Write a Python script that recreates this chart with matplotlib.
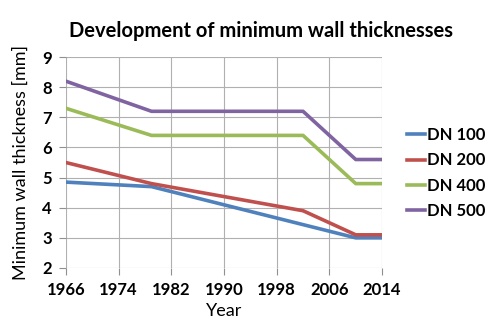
import matplotlib
matplotlib.use("Agg")
import matplotlib.pyplot as plt

plt.rcParams['font.family'] = ['Lato', 'DejaVu Sans']

years_100 = [1966, 1979, 2010, 2014]
dn_100 = [4.85, 4.7, 3.0, 3.0]
years = [1966, 1979, 2002, 2010, 2014]
dn_200 = [5.5, 4.8, 3.9, 3.1, 3.1]
dn_400 = [7.3, 6.4, 6.4, 4.8, 4.8]
dn_500 = [8.2, 7.2, 7.2, 5.6, 5.6]

x_ticks = [1966, 1974, 1982, 1990, 1998, 2006, 2014]
y_ticks = [2, 3, 4, 5, 6, 7, 8, 9]

fig = plt.figure(figsize=(4.88, 3.28), dpi=100)
ax = fig.add_axes([0.135, 0.183, 0.648, 0.643])

ax.plot(years_100, dn_100, color='#4F81BD', lw=2.6, label='DN 100')
ax.plot(years, dn_200, color='#C0504D', lw=2.6, label='DN 200')
ax.plot(years, dn_400, color='#9BBB59', lw=2.6, label='DN 400')
ax.plot(years, dn_500, color='#8064A2', lw=2.6, label='DN 500')

ax.set_xlim(1966, 2014)
ax.set_ylim(2, 9)
ax.set_xticks(x_ticks)
ax.set_yticks(y_ticks)
ax.grid(True, color='#b0b0b0', lw=0.8)
ax.set_axisbelow(True)
for s in ax.spines.values():
    s.set_visible(False)
ax.tick_params(length=5, color='#909090', labelsize=12, pad=5)
for lab in ax.get_xticklabels() + ax.get_yticklabels():
    lab.set_fontweight('bold')

ax.set_xlabel('Year', fontsize=13, labelpad=4)
ax.set_ylabel('Minimum wall thickness [mm]', fontsize=13, labelpad=10)
fig.suptitle('Development of minimum wall thicknesses', x=0.535, y=0.935,
             fontsize=14.5, fontweight='bold')

leg = ax.legend(loc='center left', bbox_to_anchor=(1.03, 0.45), frameon=False,
                handlelength=1.1, handletextpad=0.1, labelspacing=0.55,
                prop={'weight': 'bold', 'size': 12})

fig.savefig('out.png', dpi=100)
